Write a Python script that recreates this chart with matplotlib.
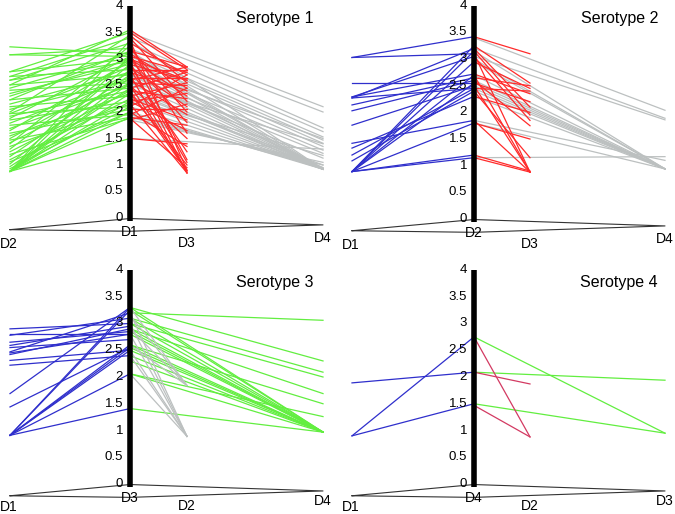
import matplotlib.pyplot as plt

plt.rcParams['font.family'] = ['Liberation Sans', 'DejaVu Sans']

# titres log10 : chaque paire relie l'axe central a un autre prelevement
ticks = [0, 0.5, 1, 1.5, 2, 2.5, 3, 3.5, 4]
tick_labels = ['0', '0.5', '1', '1.5', '2', '2.5', '3', '3.5', '4']

# Serotype 1 : axe D1, gauche D2, milieu D3, fond D4
s1_names = ['D2', 'D1', 'D3', 'D4']
s1_left = [  # (D2, D1)
    (3.23, 3.10), (3.08, 3.05), (3.08, 3.20), (2.76, 3.50), (2.76, 3.00),
    (2.67, 3.40), (2.67, 2.80), (2.60, 3.30), (2.60, 2.95), (2.51, 3.55),
    (2.51, 2.70), (2.45, 3.10), (2.41, 2.55), (2.35, 2.90), (2.30, 3.00),
    (2.23, 2.45), (2.23, 3.15), (2.15, 2.75), (2.10, 2.30), (2.05, 2.60),
    (1.97, 2.85), (1.97, 2.10), (1.92, 2.40), (1.88, 3.05), (1.85, 2.20),
    (1.79, 2.65), (1.75, 1.95), (1.69, 2.50), (1.65, 2.95), (1.60, 2.05),
    (1.55, 2.35), (1.50, 2.75), (1.47, 1.90), (1.42, 2.55), (1.35, 2.15),
    (1.30, 3.00), (1.25, 2.40), (1.20, 1.88), (1.16, 2.70), (1.10, 2.25),
    (1.06, 2.00), (1.02, 2.90), (0.97, 2.45), (0.93, 2.10), (0.88, 1.50),
    (0.88, 1.90), (0.88, 2.00), (0.88, 2.20), (0.88, 2.35), (0.88, 2.55),
    (0.88, 2.80), (0.88, 3.05), (0.88, 3.35), (0.88, 2.65), (1.40, 3.25),
    (2.00, 3.45),
]
s1_mid = [  # (D1, D3)
    (3.55, 2.85), (3.50, 2.80), (3.45, 2.55), (3.40, 2.20), (3.35, 0.90),
    (3.30, 2.70), (3.20, 2.00), (3.15, 2.85), (3.10, 2.45), (3.10, 1.10),
    (3.05, 2.75), (3.00, 2.30), (3.00, 1.80), (2.95, 0.85), (2.90, 2.60),
    (2.85, 2.10), (2.80, 2.80), (2.80, 1.25), (2.75, 2.40), (2.70, 0.85),
    (2.65, 2.65), (2.60, 1.95), (2.55, 2.50), (2.50, 1.50), (2.50, 0.90),
    (2.45, 2.75), (2.40, 2.25), (2.35, 1.00), (2.30, 2.55), (2.25, 1.85),
    (2.20, 2.35), (2.15, 0.85), (2.10, 2.70), (2.05, 2.05), (2.00, 1.35),
    (1.95, 2.45), (1.90, 1.75), (1.88, 0.95), (1.85, 2.15), (1.50, 1.40),
    (3.25, 1.60), (2.90, 1.05), (2.60, 2.85), (2.20, 1.65), (3.00, 2.60),
    (2.40, 0.88),
]
s1_far = [  # (D1, D4)
    (3.50, 2.10), (3.40, 2.00), (3.30, 1.70), (3.20, 1.63), (3.10, 1.53),
    (3.05, 1.47), (3.00, 1.41), (2.90, 1.35), (2.80, 1.28), (2.70, 1.22),
    (2.60, 1.13), (2.50, 1.40), (3.15, 0.92), (3.00, 0.92), (2.95, 0.92),
    (2.85, 0.92), (2.75, 0.92), (2.65, 0.92), (2.55, 0.92), (2.45, 0.92),
    (2.40, 0.92), (2.30, 0.92), (2.20, 0.92), (2.10, 0.92), (2.00, 0.92),
    (1.95, 0.95), (1.90, 1.00), (1.85, 1.05), (1.50, 1.30), (2.25, 1.18),
    (2.80, 1.50), (3.35, 0.92), (2.70, 0.95), (2.35, 1.00),
]

# Serotype 2 : axe D2, gauche D1, milieu D3, fond D4
s2_names = ['D1', 'D2', 'D3', 'D4']
s2_left = [  # (D1, D2)
    (3.03, 3.42), (3.03, 3.10), (2.55, 2.55), (2.29, 3.05), (2.29, 2.72),
    (2.27, 3.20), (2.27, 2.45), (2.14, 2.65), (2.03, 2.60), (1.76, 2.50),
    (1.42, 1.85), (1.33, 2.30), (1.20, 2.45), (1.09, 2.40), (0.89, 3.25),
    (0.89, 3.15), (0.89, 2.95), (0.89, 2.70), (0.89, 2.55), (0.89, 1.80),
    (0.89, 1.15), (0.89, 1.20),
]
s2_mid = [  # (D2, D3)
    (3.42, 3.10), (3.25, 2.55), (3.20, 2.10), (3.15, 1.95), (3.10, 0.88),
    (3.05, 1.85), (2.95, 2.45), (2.72, 2.35), (2.70, 0.88), (2.65, 2.50),
    (2.60, 1.75), (2.55, 2.20), (2.50, 0.88), (2.45, 2.40), (2.40, 1.15),
    (1.85, 0.88), (1.80, 1.50), (1.15, 0.88), (1.20, 0.90), (2.30, 2.00),
]
s2_far = [  # (D2, D4)
    (3.40, 2.04), (3.20, 1.89), (3.05, 1.86), (3.00, 0.94), (2.95, 0.94),
    (2.70, 0.94), (2.60, 0.94), (2.55, 0.94), (2.50, 0.94), (2.45, 0.94),
    (2.40, 0.94), (1.85, 1.10), (1.80, 0.94), (1.15, 1.17), (2.30, 0.94),
    (3.15, 0.94),
]

# Serotype 3 : axe D3, gauche D1, milieu D2, fond D4
s3_names = ['D1', 'D3', 'D2', 'D4']
s3_left = [  # (D1, D3)
    (2.90, 3.00), (2.78, 3.10), (2.65, 2.85), (2.59, 2.95), (2.47, 3.20),
    (2.45, 2.80), (2.42, 2.90), (2.31, 2.50), (2.22, 2.40), (1.69, 3.30),
    (1.44, 2.55), (0.91, 3.30), (0.91, 3.25), (0.91, 2.60), (0.91, 2.55),
    (0.91, 2.50), (0.91, 2.06), (0.91, 1.41), (2.55, 2.70), (2.80, 2.80),
]
s3_mid = [  # (D3, D2)
    (3.30, 1.84), (3.15, 1.84), (3.00, 0.89), (2.90, 1.84), (2.80, 0.89),
    (2.60, 1.84), (2.50, 0.89), (2.40, 0.89), (2.06, 0.89), (3.20, 0.89),
]
s3_far = [  # (D3, D4)
    (3.20, 3.06), (3.30, 2.30), (3.10, 2.09), (3.00, 2.00), (2.90, 1.69),
    (2.60, 1.50), (2.06, 1.26), (1.41, 0.97), (3.30, 0.97), (3.25, 0.97),
    (3.10, 0.97), (3.00, 0.97), (2.90, 0.97), (2.85, 0.97), (2.80, 0.97),
    (2.60, 0.97), (2.55, 0.97), (2.50, 0.97), (2.40, 0.97), (2.30, 0.97),
    (2.06, 0.97),
]

# Serotype 4 : axe D4, gauche D1, milieu D2, fond D3
s4_names = ['D1', 'D4', 'D2', 'D3']
s4_left = [(1.89, 2.09), (0.90, 2.75), (0.90, 1.50)]  # (D1, D4)
s4_mid = [(2.09, 1.87), (2.75, 0.88), (1.47, 0.88)]  # (D4, D2)
s4_far = [(2.75, 0.95), (2.09, 1.94), (1.50, 0.95)]  # (D4, D3)

GREEN = '#62ee40'
RED = '#ff2b2b'
GRAY = '#bcc0c0'
BLUE = '#2f2fcc'
CRIMSON = '#d33a62'

fig = plt.figure(figsize=(6.75, 5.14), dpi=100)


def panel(x0, y0, zero, scale, xs, names, title, left, mid, far, colors, lab_dy):
    ax = fig.add_axes([x0 / 675, 1 - (y0 + 257) / 514, 337.5 / 675, 257 / 514])
    ax.set_xlim(0, 337.5)
    ax.set_ylim((zero - 257) / scale, zero / scale)
    ax.axis('off')
    xl, xc, xm, xf = xs
    c_left, c_mid, c_far = colors

    for a, b in far:
        ax.plot([xc, xf], [a, b], color=c_far, lw=0.9, zorder=2)
    for a, b in mid:
        ax.plot([xc, xm], [a, b], color=c_mid, lw=0.9, zorder=3)
    for a, b in left:
        ax.plot([xl, xc], [a, b], color=c_left, lw=0.9, zorder=4)

    # axe vertical epais
    ax.plot([xc, xc], [-0.05, 4.0], color='black', lw=4, solid_capstyle='butt', zorder=6)
    for t, lab in zip(ticks, tick_labels):
        ax.text(xc - 7, t, lab, ha='right', va='center', fontsize=9.5, zorder=7)

    # plan de base en perspective
    ax.plot([xl, xc, xf, xc, xl], [-0.22, -0.01, -0.13, -0.25, -0.22],
            color='#333333', lw=0.8, zorder=1)
    ax.text(xl - 1, -0.49 + lab_dy, names[0], ha='center', va='center', fontsize=10)
    ax.text(xc, -0.27, names[1], ha='center', va='center', fontsize=10)
    ax.text(xm, -0.47 + lab_dy, names[2], ha='center', va='center', fontsize=10)
    ax.text(xf, -0.38 + lab_dy, names[3], ha='center', va='center', fontsize=10)

    ax.text(xc + 184, 3.77, title, ha='right', va='center', fontsize=11.5)


panel(0, 0, 218, 53.0, (10, 130, 187, 323), s1_names, 'Serotype 1',
      s1_left, s1_mid, s1_far, (GREEN, RED, GRAY), 0.0)
panel(337, 0, 219, 53.3, (15, 137, 193, 328), s2_names, 'Serotype 2',
      s2_left, s2_mid, s2_far, (BLUE, RED, GRAY), 0.0)
panel(0, 257, 227, 53.5, (10, 130, 187, 323), s3_names, 'Serotype 3',
      s3_left, s3_mid, s3_far, (BLUE, GRAY, GREEN), 0.06)
panel(337, 257, 227, 53.5, (15, 137, 193, 328), s4_names, 'Serotype 4',
      s4_left, s4_mid, s4_far, (BLUE, CRIMSON, GREEN), 0.06)

fig.savefig('out.png', dpi=100)
